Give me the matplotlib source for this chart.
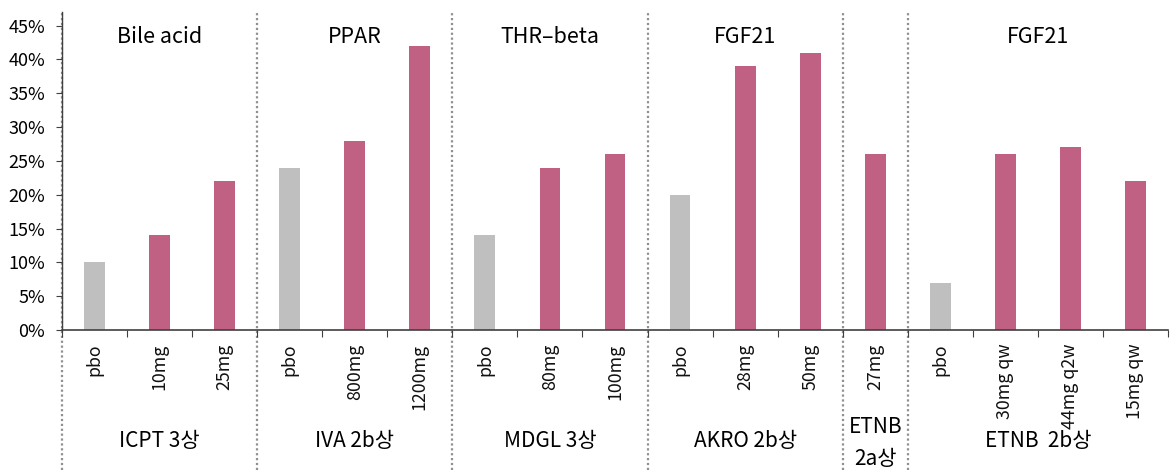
import matplotlib
matplotlib.use("Agg")
import matplotlib.pyplot as plt
import matplotlib.transforms as mtransforms

plt.rcParams['font.family'] = ['Noto Sans CJK KR', 'DejaVu Sans']

categories = ["pbo", "10mg", "25mg",
              "pbo", "800mg", "1200mg",
              "pbo", "80mg", "100mg",
              "pbo", "28mg", "50mg",
              "27mg",
              "pbo", "30mg qw", "44mg q2w", "15mg qw"]
values = [10, 14, 22,
          24, 28, 42,
          14, 24, 26,
          20, 39, 41,
          26,
          7, 26, 27, 22]
group_sizes = [3, 3, 3, 3, 1, 4]
mechanisms = ["Bile acid", "PPAR", "THR\u2013beta", "FGF21", "", "FGF21"]
trials = ["ICPT 3상", "IVA 2b상", "MDGL 3상", "AKRO 2b상", "ETNB\n2a상", "ETNB  2b상"]
yticks = [0, 5, 10, 15, 20, 25, 30, 35, 40, 45]

GREY = "#BFBFBF"
PINK = "#C06083"

fig = plt.figure(figsize=(11.7, 4.73), dpi=100)
ax = fig.add_axes([62/1170, 1-330/473, (1168-62)/1170, (330-12)/473])

n = len(categories)
xs = [i + 0.5 for i in range(n)]
colors = [GREY if c == "pbo" else PINK for c in categories]
ax.bar(xs, values, width=0.32, color=colors, zorder=2)

ax.set_xlim(0, n)
ax.set_ylim(0, 47)
ax.set_yticks(yticks)
ax.set_yticklabels([f"{v}%" for v in yticks], fontsize=13)
ax.set_xticks(range(n + 1))
ax.set_xticklabels([])
ax.tick_params(axis='x', length=5, direction='out', color='#404040')
ax.tick_params(axis='y', length=4, direction='out', color='#404040', pad=8)

for xi, lab in zip(xs, categories):
    ax.text(xi, -2.0, lab, rotation=90, ha='center', va='top', fontsize=12.8,
            color='#111111', clip_on=False)

for s in ['top', 'right']:
    ax.spines[s].set_visible(False)
ax.spines['left'].set_color('#404040')
ax.spines['bottom'].set_color('#404040')
ax.spines['left'].set_linewidth(1)
ax.spines['bottom'].set_linewidth(1.2)

trans = mtransforms.blended_transform_factory(ax.transData, ax.transAxes)
bottom_frac = -(470 - 330) / 318
bounds = [0]
for g in group_sizes:
    bounds.append(bounds[-1] + g)
for b in bounds[:-1]:
    ax.plot([b, b], [bottom_frac, 1.0], transform=trans, clip_on=False,
            color='#909090', linestyle=(0, (1, 1.2)), linewidth=1.6, zorder=1)

for i, g in enumerate(group_sizes):
    cx = (bounds[i] + bounds[i + 1]) / 2
    if mechanisms[i]:
        ax.text(cx, 43.3, mechanisms[i], ha='center', va='center', fontsize=15.5, color='black')
    if "\n" in trials[i]:
        ax.text(cx, (330 - 443) / 318, trials[i], transform=trans, ha='center', va='center',
                fontsize=15, color='black', linespacing=1.6, clip_on=False)
    else:
        ax.text(cx, (330 - 441) / 318, trials[i], transform=trans, ha='center', va='center',
                fontsize=15, color='black', clip_on=False)

fig.savefig("out.png", dpi=100)
